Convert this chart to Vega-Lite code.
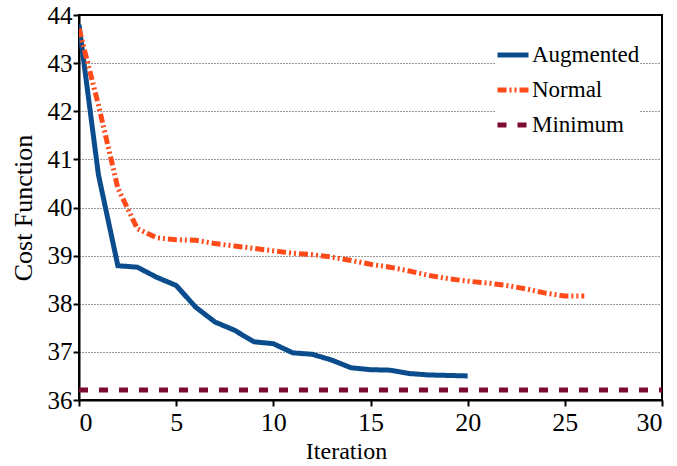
{
  "$schema": "https://vega.github.io/schema/vega-lite/v6.json",
  "width": 583,
  "height": 385,
  "autosize": {"type": "none"},
  "padding": {"left": 79, "top": 15, "right": 15, "bottom": 66},
  "background": "white",
  "config": {
    "font": "Liberation Serif",
    "style": {"guide-label": {"font": "Liberation Serif"}, "guide-title": {"font": "Liberation Serif"}},
    "view": {"stroke": "black", "strokeWidth": 2},
    "axis": {"labelFont": "Liberation Serif", "titleFont": "Liberation Serif", "labelColor": "black", "titleColor": "black", "titleFontWeight": "normal", "domainColor": "black", "domainWidth": 2, "tickColor": "black", "tickWidth": 2},
    "legend": {"labelFont": "Liberation Serif"}
  },
  "data": {"values": [
    {"iter": 0, "cost": 43.8, "series": "Augmented"},
    {"iter": 1, "cost": 40.68, "series": "Augmented"},
    {"iter": 2, "cost": 38.79, "series": "Augmented"},
    {"iter": 3, "cost": 38.76, "series": "Augmented"},
    {"iter": 4, "cost": 38.55, "series": "Augmented"},
    {"iter": 5, "cost": 38.38, "series": "Augmented"},
    {"iter": 6, "cost": 37.93, "series": "Augmented"},
    {"iter": 7, "cost": 37.62, "series": "Augmented"},
    {"iter": 8, "cost": 37.45, "series": "Augmented"},
    {"iter": 9, "cost": 37.21, "series": "Augmented"},
    {"iter": 10, "cost": 37.17, "series": "Augmented"},
    {"iter": 11, "cost": 36.98, "series": "Augmented"},
    {"iter": 12, "cost": 36.95, "series": "Augmented"},
    {"iter": 13, "cost": 36.83, "series": "Augmented"},
    {"iter": 14, "cost": 36.67, "series": "Augmented"},
    {"iter": 15, "cost": 36.63, "series": "Augmented"},
    {"iter": 16, "cost": 36.62, "series": "Augmented"},
    {"iter": 17, "cost": 36.55, "series": "Augmented"},
    {"iter": 18, "cost": 36.52, "series": "Augmented"},
    {"iter": 19, "cost": 36.51, "series": "Augmented"},
    {"iter": 20, "cost": 36.5, "series": "Augmented"},
    {"iter": 0, "cost": 43.72, "series": "Normal"},
    {"iter": 1, "cost": 42.13, "series": "Normal"},
    {"iter": 2, "cost": 40.4, "series": "Normal"},
    {"iter": 3, "cost": 39.56, "series": "Normal"},
    {"iter": 4, "cost": 39.37, "series": "Normal"},
    {"iter": 5, "cost": 39.33, "series": "Normal"},
    {"iter": 6, "cost": 39.32, "series": "Normal"},
    {"iter": 7, "cost": 39.25, "series": "Normal"},
    {"iter": 8, "cost": 39.2, "series": "Normal"},
    {"iter": 9, "cost": 39.15, "series": "Normal"},
    {"iter": 10, "cost": 39.1, "series": "Normal"},
    {"iter": 11, "cost": 39.05, "series": "Normal"},
    {"iter": 12, "cost": 39.02, "series": "Normal"},
    {"iter": 13, "cost": 38.97, "series": "Normal"},
    {"iter": 14, "cost": 38.9, "series": "Normal"},
    {"iter": 15, "cost": 38.82, "series": "Normal"},
    {"iter": 16, "cost": 38.76, "series": "Normal"},
    {"iter": 17, "cost": 38.68, "series": "Normal"},
    {"iter": 18, "cost": 38.59, "series": "Normal"},
    {"iter": 19, "cost": 38.52, "series": "Normal"},
    {"iter": 20, "cost": 38.47, "series": "Normal"},
    {"iter": 21, "cost": 38.43, "series": "Normal"},
    {"iter": 22, "cost": 38.38, "series": "Normal"},
    {"iter": 23, "cost": 38.31, "series": "Normal"},
    {"iter": 24, "cost": 38.22, "series": "Normal"},
    {"iter": 25, "cost": 38.16, "series": "Normal"},
    {"iter": 26, "cost": 38.16, "series": "Normal"},
    {"iter": 0, "cost": 36.21, "series": "Minimum"},
    {"iter": 30, "cost": 36.21, "series": "Minimum"}
  ]},
  "mark": {"type": "line", "strokeWidth": 5, "clip": true},
  "encoding": {
    "x": {"field": "iter", "type": "quantitative",
      "scale": {"domain": [0, 30], "nice": false},
      "axis": {"values": [0, 5, 10, 15, 20, 25, 30], "grid": false, "tickSize": 6, "labelFont": "Liberation Serif", "labelFontSize": 26, "labelPadding": 3, "title": "Iteration", "titleFontSize": 24, "titlePadding": 4, "titleX": 267}},
    "y": {"field": "cost", "type": "quantitative",
      "scale": {"domain": [36, 44], "nice": false, "zero": false},
      "axis": {"values": [36, 37, 38, 39, 40, 41, 42, 43, 44], "grid": true, "gridColor": "black", "gridDash": [1, 2], "gridWidth": 1.2, "gridOpacity": 0.8, "tickSize": 6, "labelFont": "Liberation Serif", "labelFontSize": 25, "labelPadding": 1, "title": "Cost Function", "titleFontSize": 26, "titlePadding": 11}},
    "color": {"field": "series", "type": "nominal",
      "scale": {"domain": ["Augmented", "Normal", "Minimum"], "range": ["#0a4c8c", "#ff4a1a", "#7d0a32"]},
      "legend": {"title": null, "orient": "none", "legendX": 416, "legendY": 22, "symbolType": "stroke", "symbolSize": 961, "symbolStrokeWidth": 5, "labelFont": "Liberation Serif", "labelFontSize": 23, "labelColor": "black", "labelOffset": 1, "rowPadding": 5, "fillColor": "white"}},
    "strokeDash": {"field": "series", "type": "nominal",
      "scale": {"domain": ["Augmented", "Normal", "Minimum"], "range": [[1, 0], [9, 3, 2, 3, 2, 3], [9, 11]]},
      "legend": {"title": null, "orient": "none", "legendX": 416, "legendY": 22, "symbolType": "stroke", "symbolSize": 961, "symbolStrokeWidth": 5, "labelFont": "Liberation Serif", "labelFontSize": 23, "labelColor": "black", "labelOffset": 1, "rowPadding": 5, "fillColor": "white"}}
  }
}
